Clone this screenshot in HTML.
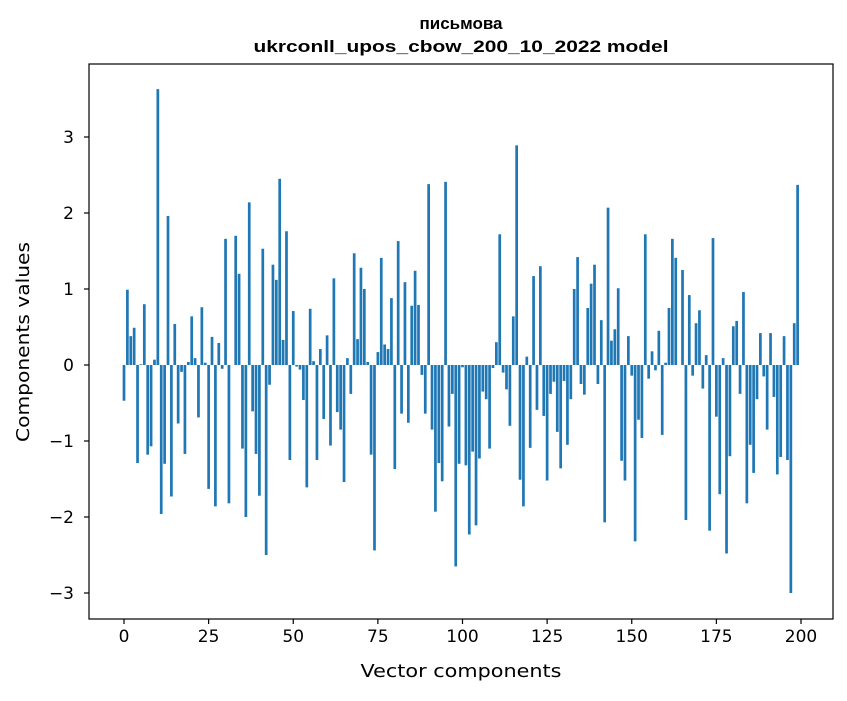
<!DOCTYPE html>
<html><head><meta charset="utf-8"><style>
body{margin:0;background:#fff}
svg text{font-family:"DejaVu Sans","Liberation Sans",sans-serif;fill:#000}
svg text.title{font-family:"Liberation Sans","DejaVu Sans",sans-serif}
</style></head><body>
<svg id="chart" width="847" height="696" viewBox="0 0 847 696" xmlns="http://www.w3.org/2000/svg">
<rect width="847" height="696" fill="#fff"/>
<text class="title" x="461" y="29" text-anchor="middle" font-size="17" font-weight="bold">письмова</text>
<text class="title" x="461" y="52" text-anchor="middle" font-size="17" font-weight="bold" textLength="415" lengthAdjust="spacingAndGlyphs">ukrconll_upos_cbow_200_10_2022 model</text>
<g id="bars"></g>
<g id="axes"></g>
<text x="461" y="677" text-anchor="middle" font-size="18" textLength="201" lengthAdjust="spacingAndGlyphs">Vector components</text>
<text transform="translate(29,342) rotate(-90)" text-anchor="middle" font-size="18" textLength="200" lengthAdjust="spacingAndGlyphs">Components values</text>
</svg>
<script>
const values = [
-0.47,0.99,0.38,0.49,-1.29,0.01,0.80,-1.18,-1.07,0.07,
3.63,-1.96,-1.30,1.96,-1.73,0.54,-0.77,-0.09,-1.17,0.04,
0.64,0.09,-0.69,0.76,0.03,-1.63,0.37,-1.86,0.29,-0.05,
1.66,-1.82,0.0,1.70,1.20,-1.10,-2.00,2.14,-0.61,-1.17,
-1.72,1.53,-2.50,-0.26,1.32,1.12,2.45,0.33,1.76,-1.25,
0.71,-0.02,-0.06,-0.46,-1.61,0.74,0.05,-1.25,0.21,-0.71,
0.39,-1.06,1.14,-0.62,-0.85,-1.54,0.09,-0.38,1.47,0.34,
1.28,1.00,0.04,-1.18,-2.44,0.17,1.41,0.27,0.21,0.88,
-1.37,1.63,-0.64,1.09,-0.76,0.78,1.24,0.79,-0.13,-0.64,
2.38,-0.85,-1.93,-1.29,-1.53,2.41,-0.81,-0.38,-2.65,-1.30,
-0.03,-1.32,-2.23,-1.14,-2.11,-1.23,-0.35,-0.45,-1.10,-0.04,
0.30,1.72,-0.10,-0.32,-0.80,0.64,2.89,-1.51,-1.86,0.11,
-1.09,1.17,-0.59,1.30,-0.67,-1.52,-0.38,-0.22,-0.88,-1.36,
-0.21,-1.05,-0.45,1.00,1.42,-0.25,-0.39,0.75,1.07,1.32,
-0.25,0.59,-2.07,2.07,0.32,0.47,1.01,-1.26,-1.52,0.38,
-0.14,-2.32,-0.72,-0.96,1.72,-0.18,0.18,-0.07,0.45,-0.92,
0.03,0.75,1.66,1.41,0.0,1.25,-2.04,0.92,-0.14,0.55,
0.72,-0.31,0.13,-2.18,1.67,-0.68,-1.70,0.09,-2.48,-1.20,
0.51,0.58,-0.38,0.96,-1.82,-1.05,-1.42,-0.45,0.42,-0.15,
-0.85,0.42,-0.42,-1.44,-1.21,0.38,-1.25,-3.00,0.55,2.37
];
const xTicks = [0,25,50,75,100,125,150,175,200];
const yTicks = [-3,-2,-1,0,1,2,3];
const yTickLabels = ["\u22123","\u22122","\u22121","0","1","2","3"];

const NS="http://www.w3.org/2000/svg";
const L=89,R=833,T=64,B=619;
const xs=v=>124+v*3.385;
const ys=v=>365-v*76;
function mk(tag,attrs,parent){const e=document.createElementNS(NS,tag);for(const k in attrs)e.setAttribute(k,attrs[k]);parent.appendChild(e);return e;}
const bars=document.getElementById('bars');
values.forEach((v,i)=>{
  const x0=xs(i-0.4),x1=xs(i+0.4);
  const y0=ys(Math.max(v,0)),y1=ys(Math.min(v,0));
  const r=mk('rect',{x:x0,y:y0,width:x1-x0,height:Math.max(y1-y0,0),fill:'#1f77b4'},bars);
  
  
});
const ax=document.getElementById('axes');
const frame=mk('rect',{x:L,y:T,width:R-L,height:B-T,fill:'none',stroke:'#000','stroke-width':1.2},ax);


xTicks.forEach(t=>{
  const x=xs(t);
  mk('line',{x1:x,x2:x,y1:B,y2:B+5,stroke:'#000','stroke-width':1.2},ax);
  const tx=mk('text',{x:x,y:B+23,'text-anchor':'middle','font-size':'17'},ax);
  tx.textContent=t;
  
  
});
yTicks.forEach((t,i)=>{
  const y=ys(t);
  mk('line',{x1:L-5,x2:L,y1:y,y2:y,stroke:'#000','stroke-width':1.2},ax);
  const tx=mk('text',{x:L-15,y:y+6,'text-anchor':'end','font-size':'17'},ax);
  tx.textContent=yTickLabels[i];
  
  
});
</script>
</body></html>
